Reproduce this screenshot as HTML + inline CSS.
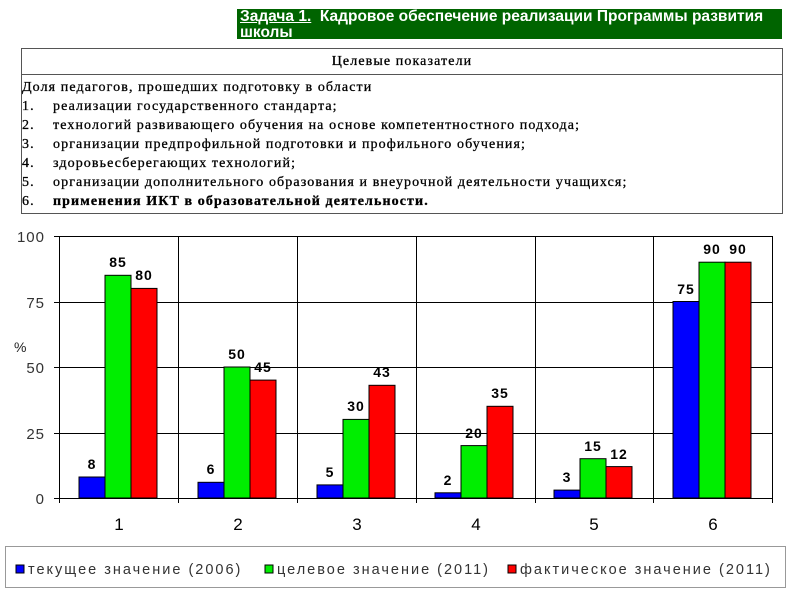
<!DOCTYPE html>
<html><head><meta charset="utf-8"><style>
body{margin:0;background:#fff;width:800px;height:600px;overflow:hidden;position:relative;font-family:"Liberation Sans",sans-serif}
.t{position:absolute;left:237px;top:9px;width:545px;height:30px;background:#006400;color:#fff;font-weight:bold;font-size:15.5px;line-height:16px;padding-left:3px;box-sizing:border-box;overflow:hidden}
.tb{position:absolute;left:21px;top:48px;width:762px;height:166px;border:1px solid #555;box-sizing:border-box;font-family:"Liberation Serif",serif;font-size:14px;letter-spacing:1.1px;color:#000;-webkit-text-stroke:0.3px #000}
.h{height:25px;border-bottom:1px solid #555;text-align:center;line-height:26px}
.r{position:absolute;left:0;white-space:nowrap}
.r span{position:absolute;left:31px}
</style></head><body>
<div class="t"><u>Задача 1.</u>&nbsp; Кадровое обеспечение реализации Программы развития<br>школы</div>
<div class="tb"><div class="h">Целевые показатели</div>
<div class="r" style="top:31px">Доля педагогов, прошедших подготовку в области</div>
<div class="r" style="top:50px">1.<span>реализации государственного стандарта;</span></div>
<div class="r" style="top:69px">2.<span>технологий развивающего обучения на основе компетентностного подхода;</span></div>
<div class="r" style="top:88px">3.<span>организации предпрофильной подготовки и профильного обучения;</span></div>
<div class="r" style="top:107px">4.<span>здоровьесберегающих технологий;</span></div>
<div class="r" style="top:126px">5.<span>организации дополнительного образования и внеурочной деятельности учащихся;</span></div>
<div class="r" style="top:145px">6.<span><b>применения ИКТ в образовательной деятельности.</b></span></div>
</div>
<svg width="800" height="600" style="position:absolute;left:0;top:0" font-family="Liberation Sans, sans-serif">
<g stroke="#000" stroke-width="1">
<line x1="54" y1="236.5" x2="772" y2="236.5"/><line x1="54" y1="302.5" x2="772" y2="302.5"/>
<line x1="54" y1="367.5" x2="772" y2="367.5"/><line x1="54" y1="433.5" x2="772" y2="433.5"/>
<line x1="54" y1="498.5" x2="772" y2="498.5"/>
<line x1="59.5" y1="236" x2="59.5" y2="503"/><line x1="178.5" y1="236" x2="178.5" y2="503"/>
<line x1="297.5" y1="236" x2="297.5" y2="503"/><line x1="416.5" y1="236" x2="416.5" y2="503"/>
<line x1="535.5" y1="236" x2="535.5" y2="503"/><line x1="653.5" y1="236" x2="653.5" y2="503"/>
<line x1="772.5" y1="236" x2="772.5" y2="503"/>
</g>
<g font-size="15" fill="#333" text-anchor="end" letter-spacing="1">
<text x="45" y="242">100</text><text x="45" y="308">75</text><text x="45" y="373">50</text><text x="45" y="439">25</text><text x="45" y="504">0</text>
</g>
<text x="14" y="352" font-size="14" fill="#222">%</text>
<g stroke="#000" stroke-width="1">
<rect x="79" y="477" width="26" height="21" fill="#00f"/>
<rect x="105" y="275.3" width="26" height="222.7" fill="#0e0"/>
<rect x="131" y="288.4" width="26" height="209.6" fill="#f00"/>
<rect x="198" y="482.3" width="26" height="15.7" fill="#00f"/>
<rect x="224" y="367" width="26" height="131" fill="#0e0"/>
<rect x="250" y="380.1" width="26" height="117.9" fill="#f00"/>
<rect x="317" y="484.9" width="26" height="13.1" fill="#00f"/>
<rect x="343" y="419.4" width="26" height="78.6" fill="#0e0"/>
<rect x="369" y="385.3" width="26" height="112.7" fill="#f00"/>
<rect x="435" y="492.8" width="26" height="5.2" fill="#00f"/>
<rect x="461" y="445.6" width="26" height="52.4" fill="#0e0"/>
<rect x="487" y="406.3" width="26" height="91.7" fill="#f00"/>
<rect x="554" y="490.1" width="26" height="7.9" fill="#00f"/>
<rect x="580" y="458.7" width="26" height="39.3" fill="#0e0"/>
<rect x="606" y="466.6" width="26" height="31.4" fill="#f00"/>
<rect x="673" y="301.5" width="26" height="196.5" fill="#00f"/>
<rect x="699" y="262.2" width="26" height="235.8" fill="#0e0"/>
<rect x="725" y="262.2" width="26" height="235.8" fill="#f00"/>
</g>
<g font-size="14" font-weight="bold" text-anchor="middle" letter-spacing="1">
<text x="92" y="469">8</text><text x="118" y="267">85</text><text x="144" y="280">80</text>
<text x="211" y="474">6</text><text x="237" y="359">50</text><text x="263" y="372">45</text>
<text x="330" y="477">5</text><text x="356" y="411">30</text><text x="382" y="377">43</text>
<text x="448" y="485">2</text><text x="474" y="438">20</text><text x="500" y="398">35</text>
<text x="567" y="482">3</text><text x="593" y="451">15</text><text x="619" y="459">12</text>
<text x="686" y="294">75</text><text x="712" y="254">90</text><text x="738" y="254">90</text>
</g>
<g font-size="17" text-anchor="middle">
<text x="119" y="530">1</text><text x="238" y="530">2</text><text x="357" y="530">3</text><text x="476" y="530">4</text><text x="594" y="530">5</text><text x="713" y="530">6</text>
</g>
<rect x="5.5" y="546.5" width="780" height="41" fill="none" stroke="#999"/>
<g font-size="14.5" fill="#333" letter-spacing="2">
<rect x="16" y="565" width="8" height="8" fill="#00f" stroke="#000"/><text x="28" y="574">текущее значение (2006)</text>
<rect x="265" y="565" width="8" height="8" fill="#0e0" stroke="#000"/><text x="277" y="574">целевое значение (2011)</text>
<rect x="508" y="565" width="8" height="8" fill="#f00" stroke="#000"/><text x="520" y="574">фактическое значение (2011)</text>
</g>
</svg>
</body></html>
